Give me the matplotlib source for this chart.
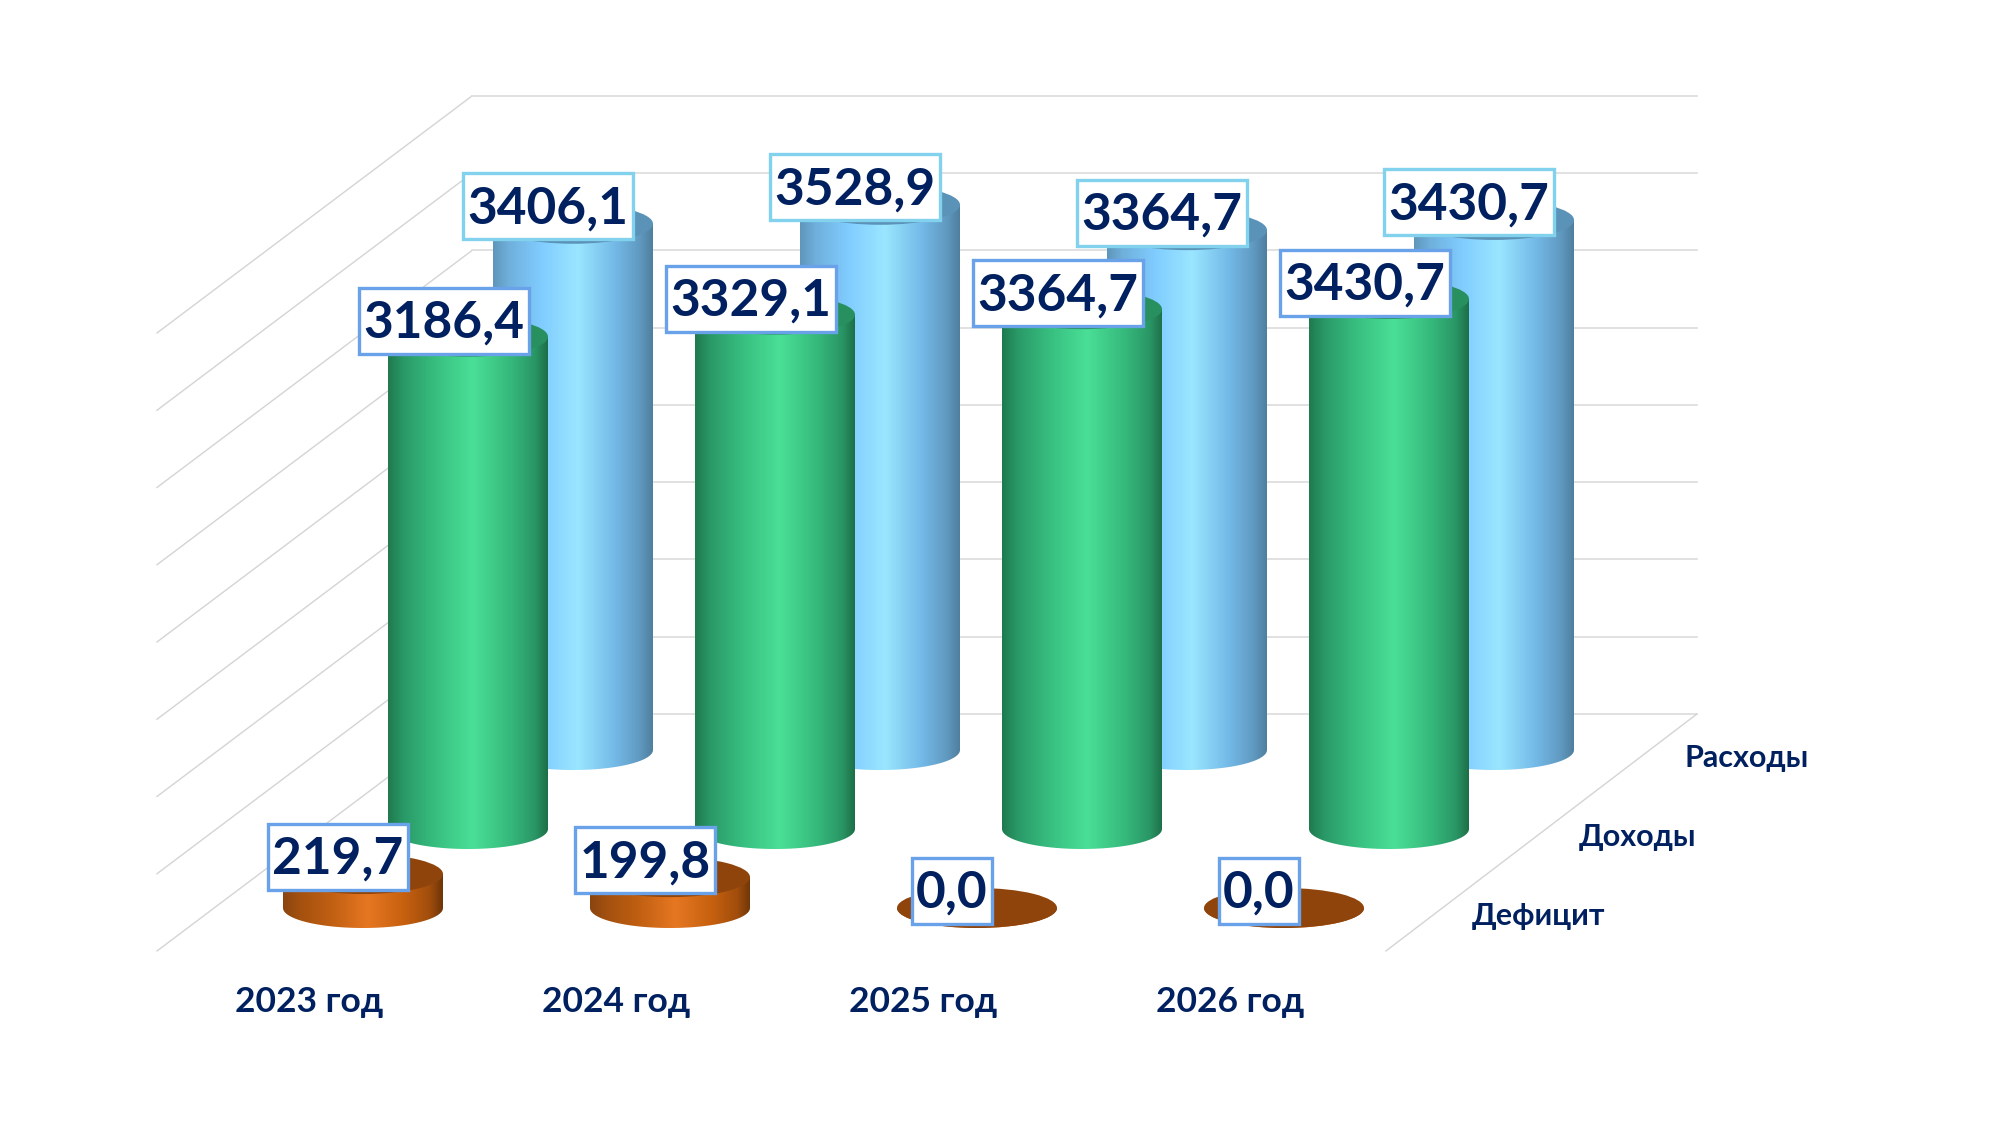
import numpy as np
import matplotlib
matplotlib.use("Agg")
import matplotlib.pyplot as plt
from matplotlib.colors import LinearSegmentedColormap
from matplotlib.patches import Ellipse, PathPatch, Rectangle
from matplotlib.path import Path

years = ["2023 год", "2024 год", "2025 год", "2026 год"]
series_names = ["Дефицит", "Доходы", "Расходы"]
deficit = [219.7, 199.8, 0.0, 0.0]
income = [3186.4, 3329.1, 3364.7, 3430.7]
expenses = [3406.1, 3528.9, 3364.7, 3430.7]
grid_values = [0, 500, 1000, 1500, 2000, 2500, 3000, 3500, 4000]

# projection, measured in output pixels
PX_PER_CAT = 307.0
PX_PER_VAL = 0.1545
ORIGIN_X, ORIGIN_Y = 363.0, 908.0
DEPTH_DX = 105.0 / PX_PER_CAT
DEPTH_DY = 79.0 / PX_PER_VAL
RX = 80.0 / PX_PER_CAT
RY = 20.0 / PX_PER_VAL

NAVY = "#002060"
STOP_POS = [0.0, 0.1, 0.3, 0.53, 0.76, 0.92, 1.0]
styles = [
    {"stops": ["#8a4510", "#a3500f", "#c05f12", "#e67722", "#c6600f", "#a04d0c", "#6e3508"],
     "top": "#8f440c", "box": "#6aa2ea"},
    {"stops": ["#1f7a4f", "#2a9a68", "#38bf80", "#4adf97", "#36ba7c", "#2a9665", "#1d6f48"],
     "top": "#28905f", "box": "#6aa2ea"},
    {"stops": ["#5f96bb", "#6fb0dc", "#80ccff", "#9ae6ff", "#74bae8", "#6099c0", "#4f7f9f"],
     "top": "#5b93b8", "box": "#82d2ee"},
]

plt.rcParams["font.family"] = ["Lato", "DejaVu Sans"]

fig = plt.figure(figsize=(20, 11.25), dpi=100, facecolor="white")
ax = fig.add_axes([0, 0, 1, 1])
ax.set_xlim(-ORIGIN_X / PX_PER_CAT, (2000 - ORIGIN_X) / PX_PER_CAT)
ax.set_ylim(-(1125 - ORIGIN_Y) / PX_PER_VAL, ORIGIN_Y / PX_PER_VAL)


def project(cat, value, depth):
    return cat + depth * DEPTH_DX, value + depth * DEPTH_DY


def draw_cylinder(cat, value, depth, style, zorder):
    x, y = project(cat, 0, depth)
    top = y + value
    angles = np.linspace(np.pi, 2 * np.pi, 60)
    xs = np.r_[x - RX, x + RX * np.cos(angles), x + RX, x - RX]
    ys = np.r_[top, y + RY * np.sin(angles), top, top]
    body = PathPatch(Path(np.column_stack([xs, ys])), fc="none", ec="none", transform=ax.transData)
    ax.add_patch(body)
    cmap = LinearSegmentedColormap.from_list("cyl", list(zip(STOP_POS, style["stops"])))
    im = ax.imshow(np.linspace(0, 1, 256).reshape(1, -1), cmap=cmap, aspect="auto",
                   extent=(x - RX, x + RX, y - RY, top), zorder=zorder, interpolation="bilinear")
    im.set_clip_path(body)
    ax.add_patch(Ellipse((x, top), 2 * RX, 2 * RY, fc=style["top"], ec="none", zorder=zorder + 0.1))


def draw_label(x, y, value, box_color, zorder):
    # box height is fixed, width follows the text like in the source chart
    txt = ax.text(x, y - 17 / PX_PER_VAL, f"{value:.1f}".replace(".", ","), ha="center", va="baseline",
                  fontsize=37, fontweight="bold", color=NAVY, zorder=zorder + 0.1)
    width = txt.get_window_extent(fig.canvas.get_renderer()).width + 9
    w = width / PX_PER_CAT
    h = 66 / PX_PER_VAL
    ax.add_patch(Rectangle((x - w / 2, y - h / 2), w, h, fc="white", ec=box_color, lw=2.4, zorder=zorder))


# walls and floor edges
front, back = -0.544, 2.456
left, right = -0.485, 3.505
for v in grid_values:
    x0, y0 = project(left, v, front)
    x1, y1 = project(left, v, back)
    x2, y2 = project(right, v, back)
    ax.plot([x0, x1], [y0, y1], color="#d4d4d4", lw=1.0, zorder=1)
    ax.plot([x1, x2], [y1, y2], color="#dcdcdc", lw=1.2, zorder=1)
x0, y0 = project(right + 4 / PX_PER_CAT, 0, front)
x1, y1 = project(right, 0, back)
ax.plot([x0, x1], [y0, y1], color="#d4d4d4", lw=1.0, zorder=1)

# back row first so the nearer cylinders cover it
all_series = [deficit, income, expenses]
label_dx = [-25.0, -24.0, -25.0]
label_dy = [17.0, 16.0, 17.5]
name_dx = [1.0, -5.0, -1.0]
for depth in [2, 1, 0]:
    for i, value in enumerate(all_series[depth]):
        draw_cylinder(i, value, depth, styles[depth], 5 - depth + i * 0.01)

for depth in [2, 1, 0]:
    for i, value in enumerate(all_series[depth]):
        x, y = project(i, value, depth)
        draw_label(x + label_dx[depth] / PX_PER_CAT, y + label_dy[depth] / PX_PER_VAL,
                   value, styles[depth]["box"], 12 - depth)

for i, year in enumerate(years):
    ax.text(i - 54 / PX_PER_CAT, -94 / PX_PER_VAL, year, ha="center", va="center",
            fontsize=25.5, fontweight="bold", color=NAVY)

for depth, name in enumerate(series_names):
    x, y = project(3.826 + name_dx[depth] / PX_PER_CAT, -8 / PX_PER_VAL, depth)
    ax.text(x, y, name, ha="center", va="center", fontsize=22, fontweight="bold", color=NAVY)

ax.axis("off")

fig.savefig("out.png", dpi=100)
